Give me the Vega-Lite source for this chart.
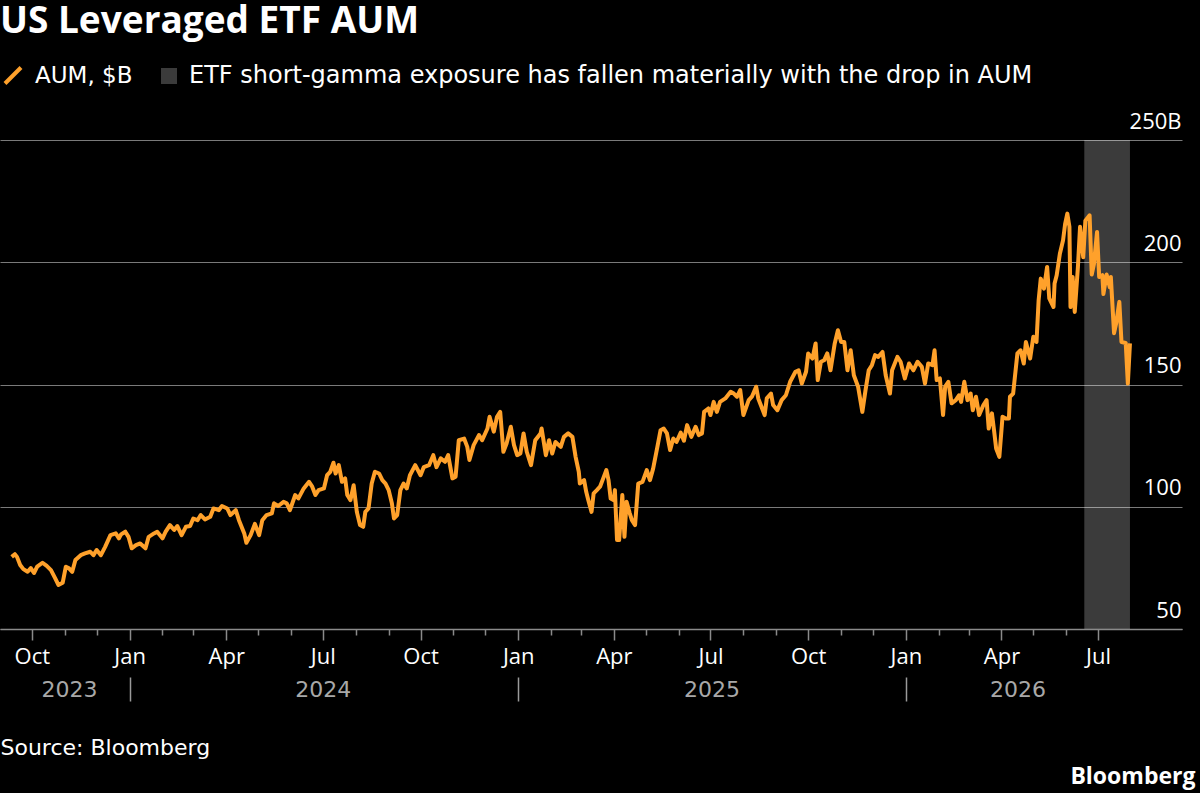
{
  "$schema": "https://vega.github.io/schema/vega-lite/v6.json",
  "width": 1182,
  "height": 489,
  "autosize": {"type": "none"},
  "padding": {"left": 0, "top": 140, "right": 18, "bottom": 164},
  "background": "#000000",
  "config": {"view": {"stroke": null}, "font": "Open Sans"},
  "title": {
    "text": "US Leveraged ETF AUM",
    "anchor": "start",
    "frame": "group",
    "font": "Open Sans",
    "fontSize": 37,
    "fontWeight": "bold",
    "color": "#ffffff",
    "baseline": "alphabetic",
    "offset": -6
  },
  "resolve": {"axis": {"x": "independent"}},
  "layer": [
    {
      "data": {
        "values": [
          {"start": "2026-06-18", "end": "2026-07-31", "label": "ETF short-gamma exposure has fallen materially with the drop in AUM"}
        ]
      },
      "mark": {"type": "rect"},
      "encoding": {
        "x": {
          "field": "start",
          "type": "temporal",
          "scale": {"type": "utc", "domain": [{"year": 2023, "month": 9, "date": 1, "utc": true}, {"year": 2026, "month": 9, "date": 18, "utc": true}]},
          "axis": {
            "orient": "bottom",
            "offset": 48,
            "domain": false,
            "grid": false,
            "values": [
              {"year": 2023, "month": 11, "date": 5, "utc": true},
              {"year": 2024, "month": 1, "date": 1, "utc": true},
              {"year": 2024, "month": 7, "date": 1, "utc": true},
              {"year": 2025, "month": 1, "date": 1, "utc": true},
              {"year": 2025, "month": 7, "date": 2, "utc": true},
              {"year": 2026, "month": 1, "date": 1, "utc": true},
              {"year": 2026, "month": 4, "date": 16, "utc": true}
            ],
            "tickSize": 24,
            "tickWidth": 1.5,
            "tickColor": {"condition": {"test": "utcmonth(datum.value) === 0 && utcdate(datum.value) === 1", "value": "#9a9a9a"}, "value": "transparent"},
            "labelExpr": "utcmonth(datum.value) === 0 && utcdate(datum.value) === 1 ? '' : utcFormat(datum.value, '%Y')",
            "labelPadding": -12,
            "labelBaseline": "middle",
            "labelColor": "#a8a8a8",
            "labelFont": "DejaVu Sans",
            "labelFontSize": 22,
            "labelOverlap": false,
            "labelFlush": false,
            "title": "Source: Bloomberg",
            "titleX": 0,
            "titleY": 77,
            "titleAlign": "left",
            "titleBaseline": "alphabetic",
            "titleColor": "#ffffff",
            "titleFont": "DejaVu Sans",
            "titleFontSize": 22,
            "titleFontWeight": "normal"
          }
        },
        "x2": {"field": "end"},
        "fill": {
          "field": "label",
          "type": "nominal",
          "scale": {"range": ["rgba(255,255,255,0.23)"]},
          "legend": {
            "orient": "none",
            "legendX": 157,
            "legendY": -76,
            "title": null,
            "padding": 0,
            "symbolType": "square",
            "symbolSize": 256,
            "symbolStrokeWidth": 0,
            "labelFont": "DejaVu Sans",
            "labelFontSize": 24,
            "labelColor": "#ffffff",
            "labelOffset": 8,
            "labelLimit": 1000
          }
        }
      }
    },
    {
      "data": {
        "values": [
          {"date": "2023-09-12", "aum": 79.5},
          {"date": "2023-09-15", "aum": 80.6},
          {"date": "2023-09-17", "aum": 79.5},
          {"date": "2023-09-20", "aum": 76.2},
          {"date": "2023-09-23", "aum": 74.5},
          {"date": "2023-09-27", "aum": 73.4},
          {"date": "2023-09-30", "aum": 74.9},
          {"date": "2023-10-03", "aum": 72.9},
          {"date": "2023-10-06", "aum": 75.5},
          {"date": "2023-10-11", "aum": 77.1},
          {"date": "2023-10-15", "aum": 75.8},
          {"date": "2023-10-19", "aum": 74.1},
          {"date": "2023-10-23", "aum": 70.7},
          {"date": "2023-10-26", "aum": 68.0},
          {"date": "2023-10-30", "aum": 68.9},
          {"date": "2023-11-02", "aum": 75.5},
          {"date": "2023-11-05", "aum": 74.8},
          {"date": "2023-11-08", "aum": 73.4},
          {"date": "2023-11-11", "aum": 78.2},
          {"date": "2023-11-16", "aum": 80.2},
          {"date": "2023-11-20", "aum": 80.9},
          {"date": "2023-11-25", "aum": 81.6},
          {"date": "2023-11-28", "aum": 80.2},
          {"date": "2023-12-01", "aum": 82.3},
          {"date": "2023-12-05", "aum": 80.2},
          {"date": "2023-12-09", "aum": 83.6},
          {"date": "2023-12-14", "aum": 88.4},
          {"date": "2023-12-19", "aum": 89.1},
          {"date": "2023-12-22", "aum": 87.1},
          {"date": "2023-12-24", "aum": 88.7},
          {"date": "2023-12-28", "aum": 89.8},
          {"date": "2023-12-31", "aum": 87.7},
          {"date": "2024-01-03", "aum": 83.0},
          {"date": "2024-01-07", "aum": 84.3},
          {"date": "2024-01-11", "aum": 85.0},
          {"date": "2024-01-16", "aum": 83.0},
          {"date": "2024-01-19", "aum": 87.7},
          {"date": "2024-01-24", "aum": 89.1},
          {"date": "2024-01-27", "aum": 89.8},
          {"date": "2024-02-01", "aum": 87.1},
          {"date": "2024-02-04", "aum": 89.8},
          {"date": "2024-02-08", "aum": 92.5},
          {"date": "2024-02-12", "aum": 90.5},
          {"date": "2024-02-15", "aum": 92.1},
          {"date": "2024-02-19", "aum": 88.4},
          {"date": "2024-02-23", "aum": 91.8},
          {"date": "2024-02-27", "aum": 92.1},
          {"date": "2024-03-01", "aum": 95.2},
          {"date": "2024-03-05", "aum": 94.5},
          {"date": "2024-03-08", "aum": 96.6},
          {"date": "2024-03-12", "aum": 94.8},
          {"date": "2024-03-17", "aum": 95.9},
          {"date": "2024-03-20", "aum": 99.3},
          {"date": "2024-03-25", "aum": 98.6},
          {"date": "2024-03-28", "aum": 100.3},
          {"date": "2024-04-02", "aum": 99.3},
          {"date": "2024-04-05", "aum": 96.6},
          {"date": "2024-04-10", "aum": 98.6},
          {"date": "2024-04-13", "aum": 94.5},
          {"date": "2024-04-18", "aum": 89.1},
          {"date": "2024-04-20", "aum": 85.3},
          {"date": "2024-04-24", "aum": 88.4},
          {"date": "2024-04-28", "aum": 93.0},
          {"date": "2024-05-02", "aum": 88.4},
          {"date": "2024-05-05", "aum": 94.5},
          {"date": "2024-05-09", "aum": 96.6},
          {"date": "2024-05-14", "aum": 97.3},
          {"date": "2024-05-16", "aum": 101.4},
          {"date": "2024-05-20", "aum": 100.3},
          {"date": "2024-05-25", "aum": 102.0},
          {"date": "2024-05-28", "aum": 101.4},
          {"date": "2024-05-31", "aum": 98.6},
          {"date": "2024-06-05", "aum": 104.8},
          {"date": "2024-06-08", "aum": 103.4},
          {"date": "2024-06-13", "aum": 107.5},
          {"date": "2024-06-18", "aum": 110.2},
          {"date": "2024-06-21", "aum": 108.2},
          {"date": "2024-06-24", "aum": 104.8},
          {"date": "2024-06-27", "aum": 106.8},
          {"date": "2024-07-02", "aum": 107.5},
          {"date": "2024-07-05", "aum": 112.9},
          {"date": "2024-07-08", "aum": 114.3},
          {"date": "2024-07-11", "aum": 118.0},
          {"date": "2024-07-13", "aum": 113.6},
          {"date": "2024-07-16", "aum": 117.0},
          {"date": "2024-07-19", "aum": 110.2},
          {"date": "2024-07-22", "aum": 111.6},
          {"date": "2024-07-24", "aum": 104.8},
          {"date": "2024-07-27", "aum": 102.7},
          {"date": "2024-07-30", "aum": 108.8},
          {"date": "2024-08-02", "aum": 97.9},
          {"date": "2024-08-05", "aum": 92.5},
          {"date": "2024-08-08", "aum": 91.8},
          {"date": "2024-08-10", "aum": 97.9},
          {"date": "2024-08-13", "aum": 99.3},
          {"date": "2024-08-16", "aum": 109.5},
          {"date": "2024-08-19", "aum": 114.3},
          {"date": "2024-08-23", "aum": 113.6},
          {"date": "2024-08-26", "aum": 110.9},
          {"date": "2024-08-29", "aum": 109.5},
          {"date": "2024-09-01", "aum": 106.8},
          {"date": "2024-09-04", "aum": 101.4},
          {"date": "2024-09-06", "aum": 95.2},
          {"date": "2024-09-09", "aum": 96.6},
          {"date": "2024-09-12", "aum": 106.8},
          {"date": "2024-09-15", "aum": 109.5},
          {"date": "2024-09-18", "aum": 107.5},
          {"date": "2024-09-21", "aum": 112.9},
          {"date": "2024-09-26", "aum": 117.0},
          {"date": "2024-10-01", "aum": 112.9},
          {"date": "2024-10-04", "aum": 116.2},
          {"date": "2024-10-09", "aum": 117.0},
          {"date": "2024-10-13", "aum": 121.1},
          {"date": "2024-10-16", "aum": 116.2},
          {"date": "2024-10-20", "aum": 119.8},
          {"date": "2024-10-24", "aum": 118.4},
          {"date": "2024-10-27", "aum": 121.1},
          {"date": "2024-10-31", "aum": 111.6},
          {"date": "2024-11-03", "aum": 112.3},
          {"date": "2024-11-06", "aum": 127.2},
          {"date": "2024-11-11", "aum": 127.9},
          {"date": "2024-11-14", "aum": 124.5},
          {"date": "2024-11-16", "aum": 119.1},
          {"date": "2024-11-20", "aum": 125.2},
          {"date": "2024-11-25", "aum": 129.3},
          {"date": "2024-11-28", "aum": 127.2},
          {"date": "2024-12-03", "aum": 132.0},
          {"date": "2024-12-05", "aum": 136.8},
          {"date": "2024-12-09", "aum": 130.7},
          {"date": "2024-12-12", "aum": 136.8},
          {"date": "2024-12-15", "aum": 138.8},
          {"date": "2024-12-18", "aum": 122.5},
          {"date": "2024-12-21", "aum": 125.9},
          {"date": "2024-12-25", "aum": 132.7},
          {"date": "2024-12-28", "aum": 125.2},
          {"date": "2024-12-31", "aum": 121.1},
          {"date": "2025-01-03", "aum": 121.8},
          {"date": "2025-01-06", "aum": 130.0},
          {"date": "2025-01-09", "aum": 122.5},
          {"date": "2025-01-13", "aum": 117.0},
          {"date": "2025-01-17", "aum": 127.2},
          {"date": "2025-01-22", "aum": 130.0},
          {"date": "2025-01-23", "aum": 132.0},
          {"date": "2025-01-27", "aum": 121.1},
          {"date": "2025-01-30", "aum": 127.2},
          {"date": "2025-02-02", "aum": 121.8},
          {"date": "2025-02-05", "aum": 126.5},
          {"date": "2025-02-10", "aum": 124.5},
          {"date": "2025-02-13", "aum": 128.6},
          {"date": "2025-02-17", "aum": 130.0},
          {"date": "2025-02-21", "aum": 128.6},
          {"date": "2025-02-24", "aum": 120.4},
          {"date": "2025-02-27", "aum": 114.3},
          {"date": "2025-02-28", "aum": 109.5},
          {"date": "2025-03-04", "aum": 110.9},
          {"date": "2025-03-06", "aum": 106.1},
          {"date": "2025-03-08", "aum": 102.7},
          {"date": "2025-03-11", "aum": 97.9},
          {"date": "2025-03-13", "aum": 105.5},
          {"date": "2025-03-16", "aum": 106.8},
          {"date": "2025-03-19", "aum": 108.2},
          {"date": "2025-03-22", "aum": 111.6},
          {"date": "2025-03-25", "aum": 115.0},
          {"date": "2025-03-27", "aum": 110.9},
          {"date": "2025-03-29", "aum": 103.4},
          {"date": "2025-04-01", "aum": 102.7},
          {"date": "2025-04-02", "aum": 106.8},
          {"date": "2025-04-04", "aum": 86.4},
          {"date": "2025-04-06", "aum": 86.4},
          {"date": "2025-04-09", "aum": 104.8},
          {"date": "2025-04-11", "aum": 87.7},
          {"date": "2025-04-13", "aum": 102.0},
          {"date": "2025-04-16", "aum": 97.3},
          {"date": "2025-04-18", "aum": 94.5},
          {"date": "2025-04-21", "aum": 92.5},
          {"date": "2025-04-24", "aum": 109.5},
          {"date": "2025-04-28", "aum": 110.2},
          {"date": "2025-05-02", "aum": 115.0},
          {"date": "2025-05-05", "aum": 110.9},
          {"date": "2025-05-08", "aum": 115.6},
          {"date": "2025-05-12", "aum": 124.5},
          {"date": "2025-05-15", "aum": 131.3},
          {"date": "2025-05-18", "aum": 132.0},
          {"date": "2025-05-21", "aum": 130.0},
          {"date": "2025-05-24", "aum": 123.2},
          {"date": "2025-05-27", "aum": 127.9},
          {"date": "2025-05-30", "aum": 126.5},
          {"date": "2025-06-03", "aum": 130.3},
          {"date": "2025-06-06", "aum": 127.0},
          {"date": "2025-06-09", "aum": 133.4},
          {"date": "2025-06-13", "aum": 128.6},
          {"date": "2025-06-17", "aum": 132.7},
          {"date": "2025-06-20", "aum": 129.3},
          {"date": "2025-06-23", "aum": 130.0},
          {"date": "2025-06-25", "aum": 138.8},
          {"date": "2025-06-29", "aum": 140.2},
          {"date": "2025-07-01", "aum": 137.5},
          {"date": "2025-07-04", "aum": 142.9},
          {"date": "2025-07-07", "aum": 138.8},
          {"date": "2025-07-10", "aum": 142.9},
          {"date": "2025-07-15", "aum": 144.3},
          {"date": "2025-07-20", "aum": 147.0},
          {"date": "2025-07-23", "aum": 146.3},
          {"date": "2025-07-26", "aum": 145.0},
          {"date": "2025-07-29", "aum": 147.7},
          {"date": "2025-08-01", "aum": 137.5},
          {"date": "2025-08-06", "aum": 143.6},
          {"date": "2025-08-09", "aum": 145.0},
          {"date": "2025-08-13", "aum": 149.1},
          {"date": "2025-08-15", "aum": 144.3},
          {"date": "2025-08-18", "aum": 140.9},
          {"date": "2025-08-21", "aum": 137.5},
          {"date": "2025-08-23", "aum": 144.3},
          {"date": "2025-08-27", "aum": 146.3},
          {"date": "2025-08-29", "aum": 141.6},
          {"date": "2025-09-02", "aum": 139.5},
          {"date": "2025-09-06", "aum": 143.6},
          {"date": "2025-09-10", "aum": 145.6},
          {"date": "2025-09-14", "aum": 151.1},
          {"date": "2025-09-19", "aum": 155.2},
          {"date": "2025-09-22", "aum": 155.8},
          {"date": "2025-09-25", "aum": 150.4},
          {"date": "2025-09-29", "aum": 155.2},
          {"date": "2025-10-01", "aum": 162.7},
          {"date": "2025-10-05", "aum": 160.6},
          {"date": "2025-10-08", "aum": 166.8},
          {"date": "2025-10-10", "aum": 151.8},
          {"date": "2025-10-13", "aum": 159.3},
          {"date": "2025-10-16", "aum": 159.9},
          {"date": "2025-10-19", "aum": 162.7},
          {"date": "2025-10-22", "aum": 155.8},
          {"date": "2025-10-26", "aum": 166.8},
          {"date": "2025-10-29", "aum": 172.2},
          {"date": "2025-11-01", "aum": 167.4},
          {"date": "2025-11-04", "aum": 167.4},
          {"date": "2025-11-07", "aum": 155.8},
          {"date": "2025-11-10", "aum": 164.0},
          {"date": "2025-11-13", "aum": 153.8},
          {"date": "2025-11-17", "aum": 149.1},
          {"date": "2025-11-21", "aum": 138.8},
          {"date": "2025-11-24", "aum": 147.7},
          {"date": "2025-11-27", "aum": 155.8},
          {"date": "2025-11-30", "aum": 157.9},
          {"date": "2025-12-03", "aum": 162.0},
          {"date": "2025-12-06", "aum": 161.3},
          {"date": "2025-12-10", "aum": 163.3},
          {"date": "2025-12-13", "aum": 153.8},
          {"date": "2025-12-17", "aum": 146.3},
          {"date": "2025-12-19", "aum": 155.8},
          {"date": "2025-12-24", "aum": 161.3},
          {"date": "2025-12-27", "aum": 159.3},
          {"date": "2025-12-31", "aum": 152.5},
          {"date": "2026-01-04", "aum": 158.6},
          {"date": "2026-01-08", "aum": 155.8},
          {"date": "2026-01-12", "aum": 159.3},
          {"date": "2026-01-16", "aum": 157.2},
          {"date": "2026-01-19", "aum": 150.4},
          {"date": "2026-01-22", "aum": 158.6},
          {"date": "2026-01-26", "aum": 157.9},
          {"date": "2026-01-28", "aum": 164.0},
          {"date": "2026-01-30", "aum": 151.8},
          {"date": "2026-02-02", "aum": 152.5},
          {"date": "2026-02-05", "aum": 137.5},
          {"date": "2026-02-07", "aum": 149.1},
          {"date": "2026-02-10", "aum": 151.1},
          {"date": "2026-02-13", "aum": 142.3},
          {"date": "2026-02-17", "aum": 143.6},
          {"date": "2026-02-20", "aum": 145.6},
          {"date": "2026-02-22", "aum": 142.9},
          {"date": "2026-02-25", "aum": 151.1},
          {"date": "2026-02-28", "aum": 143.6},
          {"date": "2026-03-03", "aum": 146.3},
          {"date": "2026-03-05", "aum": 139.5},
          {"date": "2026-03-08", "aum": 145.0},
          {"date": "2026-03-11", "aum": 137.5},
          {"date": "2026-03-15", "aum": 141.6},
          {"date": "2026-03-18", "aum": 143.6},
          {"date": "2026-03-20", "aum": 132.0},
          {"date": "2026-03-23", "aum": 138.2},
          {"date": "2026-03-25", "aum": 131.3},
          {"date": "2026-03-27", "aum": 123.8},
          {"date": "2026-03-30", "aum": 120.4},
          {"date": "2026-04-02", "aum": 136.8},
          {"date": "2026-04-05", "aum": 136.1},
          {"date": "2026-04-08", "aum": 136.1},
          {"date": "2026-04-09", "aum": 145.0},
          {"date": "2026-04-12", "aum": 146.3},
          {"date": "2026-04-16", "aum": 162.7},
          {"date": "2026-04-19", "aum": 164.0},
          {"date": "2026-04-22", "aum": 158.6},
          {"date": "2026-04-24", "aum": 167.4},
          {"date": "2026-04-28", "aum": 160.6},
          {"date": "2026-05-01", "aum": 169.5},
          {"date": "2026-05-04", "aum": 167.4},
          {"date": "2026-05-06", "aum": 184.5},
          {"date": "2026-05-08", "aum": 193.3},
          {"date": "2026-05-11", "aum": 189.2},
          {"date": "2026-05-14", "aum": 198.1},
          {"date": "2026-05-16", "aum": 185.2},
          {"date": "2026-05-20", "aum": 181.7},
          {"date": "2026-05-21", "aum": 191.3},
          {"date": "2026-05-23", "aum": 194.7},
          {"date": "2026-05-26", "aum": 203.5},
          {"date": "2026-05-29", "aum": 209.0},
          {"date": "2026-05-31", "aum": 215.8},
          {"date": "2026-06-02", "aum": 219.9},
          {"date": "2026-06-04", "aum": 214.5},
          {"date": "2026-06-05", "aum": 181.7},
          {"date": "2026-06-07", "aum": 194.0},
          {"date": "2026-06-09", "aum": 179.7},
          {"date": "2026-06-12", "aum": 198.1},
          {"date": "2026-06-14", "aum": 214.5},
          {"date": "2026-06-17", "aum": 202.0},
          {"date": "2026-06-19", "aum": 217.0},
          {"date": "2026-06-23", "aum": 219.2},
          {"date": "2026-06-25", "aum": 195.0},
          {"date": "2026-06-27", "aum": 199.0},
          {"date": "2026-06-30", "aum": 212.4},
          {"date": "2026-07-02", "aum": 194.0},
          {"date": "2026-07-05", "aum": 194.7},
          {"date": "2026-07-06", "aum": 187.0},
          {"date": "2026-07-09", "aum": 195.0},
          {"date": "2026-07-12", "aum": 189.8},
          {"date": "2026-07-13", "aum": 194.0},
          {"date": "2026-07-16", "aum": 171.0},
          {"date": "2026-07-18", "aum": 175.0},
          {"date": "2026-07-21", "aum": 183.8},
          {"date": "2026-07-23", "aum": 167.4},
          {"date": "2026-07-27", "aum": 167.0},
          {"date": "2026-07-29", "aum": 150.4},
          {"date": "2026-07-31", "aum": 166.8}
        ]
      },
      "mark": {"type": "line", "strokeWidth": 4, "strokeJoin": "round"},
      "encoding": {
        "x": {
          "field": "date",
          "type": "temporal",
          "scale": {"type": "utc", "domain": [{"year": 2023, "month": 9, "date": 1, "utc": true}, {"year": 2026, "month": 9, "date": 18, "utc": true}]},
          "axis": {
            "orient": "bottom",
            "domainColor": "#8a8a8a",
            "domainWidth": 1.5,
            "grid": false,
            "values": [
              {"year": 2023, "month": 10, "date": 1, "utc": true},
              {"year": 2023, "month": 11, "date": 1, "utc": true},
              {"year": 2023, "month": 12, "date": 1, "utc": true},
              {"year": 2024, "month": 1, "date": 1, "utc": true},
              {"year": 2024, "month": 2, "date": 1, "utc": true},
              {"year": 2024, "month": 3, "date": 1, "utc": true},
              {"year": 2024, "month": 4, "date": 1, "utc": true},
              {"year": 2024, "month": 5, "date": 1, "utc": true},
              {"year": 2024, "month": 6, "date": 1, "utc": true},
              {"year": 2024, "month": 7, "date": 1, "utc": true},
              {"year": 2024, "month": 8, "date": 1, "utc": true},
              {"year": 2024, "month": 9, "date": 1, "utc": true},
              {"year": 2024, "month": 10, "date": 1, "utc": true},
              {"year": 2024, "month": 11, "date": 1, "utc": true},
              {"year": 2024, "month": 12, "date": 1, "utc": true},
              {"year": 2025, "month": 1, "date": 1, "utc": true},
              {"year": 2025, "month": 2, "date": 1, "utc": true},
              {"year": 2025, "month": 3, "date": 1, "utc": true},
              {"year": 2025, "month": 4, "date": 1, "utc": true},
              {"year": 2025, "month": 5, "date": 1, "utc": true},
              {"year": 2025, "month": 6, "date": 1, "utc": true},
              {"year": 2025, "month": 7, "date": 1, "utc": true},
              {"year": 2025, "month": 8, "date": 1, "utc": true},
              {"year": 2025, "month": 9, "date": 1, "utc": true},
              {"year": 2025, "month": 10, "date": 1, "utc": true},
              {"year": 2025, "month": 11, "date": 1, "utc": true},
              {"year": 2025, "month": 12, "date": 1, "utc": true},
              {"year": 2026, "month": 1, "date": 1, "utc": true},
              {"year": 2026, "month": 2, "date": 1, "utc": true},
              {"year": 2026, "month": 3, "date": 1, "utc": true},
              {"year": 2026, "month": 4, "date": 1, "utc": true},
              {"year": 2026, "month": 5, "date": 1, "utc": true},
              {"year": 2026, "month": 6, "date": 1, "utc": true},
              {"year": 2026, "month": 7, "date": 1, "utc": true}
            ],
            "tickColor": "#8a8a8a",
            "tickWidth": 1.5,
            "tickSize": {"condition": {"test": "utcmonth(datum.value) % 3 === 0", "value": 11}, "value": 6},
            "labelExpr": "utcmonth(datum.value) % 3 === 0 ? utcFormat(datum.value, '%b') : ''",
            "labelPadding": 6,
            "labelColor": "#ffffff",
            "labelFontSize": 22,
            "labelOverlap": false,
            "labelFlush": false,
            "title": "Bloomberg",
            "titleX": 1195,
            "titleY": 154,
            "titleAlign": "right",
            "titleBaseline": "alphabetic",
            "titleColor": "#ffffff",
            "titleFontSize": 23,
            "titleFontWeight": "bold"
          }
        },
        "y": {
          "field": "aum",
          "type": "quantitative",
          "scale": {"domain": [50, 250], "nice": false, "zero": false},
          "axis": {
            "orient": "right",
            "values": [50, 100, 150, 200, 250],
            "domain": false,
            "ticks": false,
            "grid": true,
            "gridColor": "#7a7a7a",
            "gridWidth": 1,
            "labelAlign": "right",
            "labelBaseline": "alphabetic",
            "labelPadding": -1,
            "labelOffset": -12,
            "labelExpr": "datum.value === 250 ? '250B' : datum.label",
            "labelColor": "#ffffff",
            "labelFontSize": 22,
            "title": null
          }
        },
        "stroke": {
          "datum": "AUM, $B",
          "type": "nominal",
          "scale": {"range": ["#ffa12b"]},
          "legend": {
            "orient": "none",
            "legendX": 1.5,
            "legendY": -76,
            "title": null,
            "padding": 0,
            "symbolType": "M-1,1L1,-1",
            "symbolSize": 256,
            "symbolStrokeWidth": 4,
            "labelFont": "DejaVu Sans",
            "labelFontSize": 23,
            "labelColor": "#ffffff",
            "labelOffset": 10.5
          }
        }
      }
    }
  ]
}
